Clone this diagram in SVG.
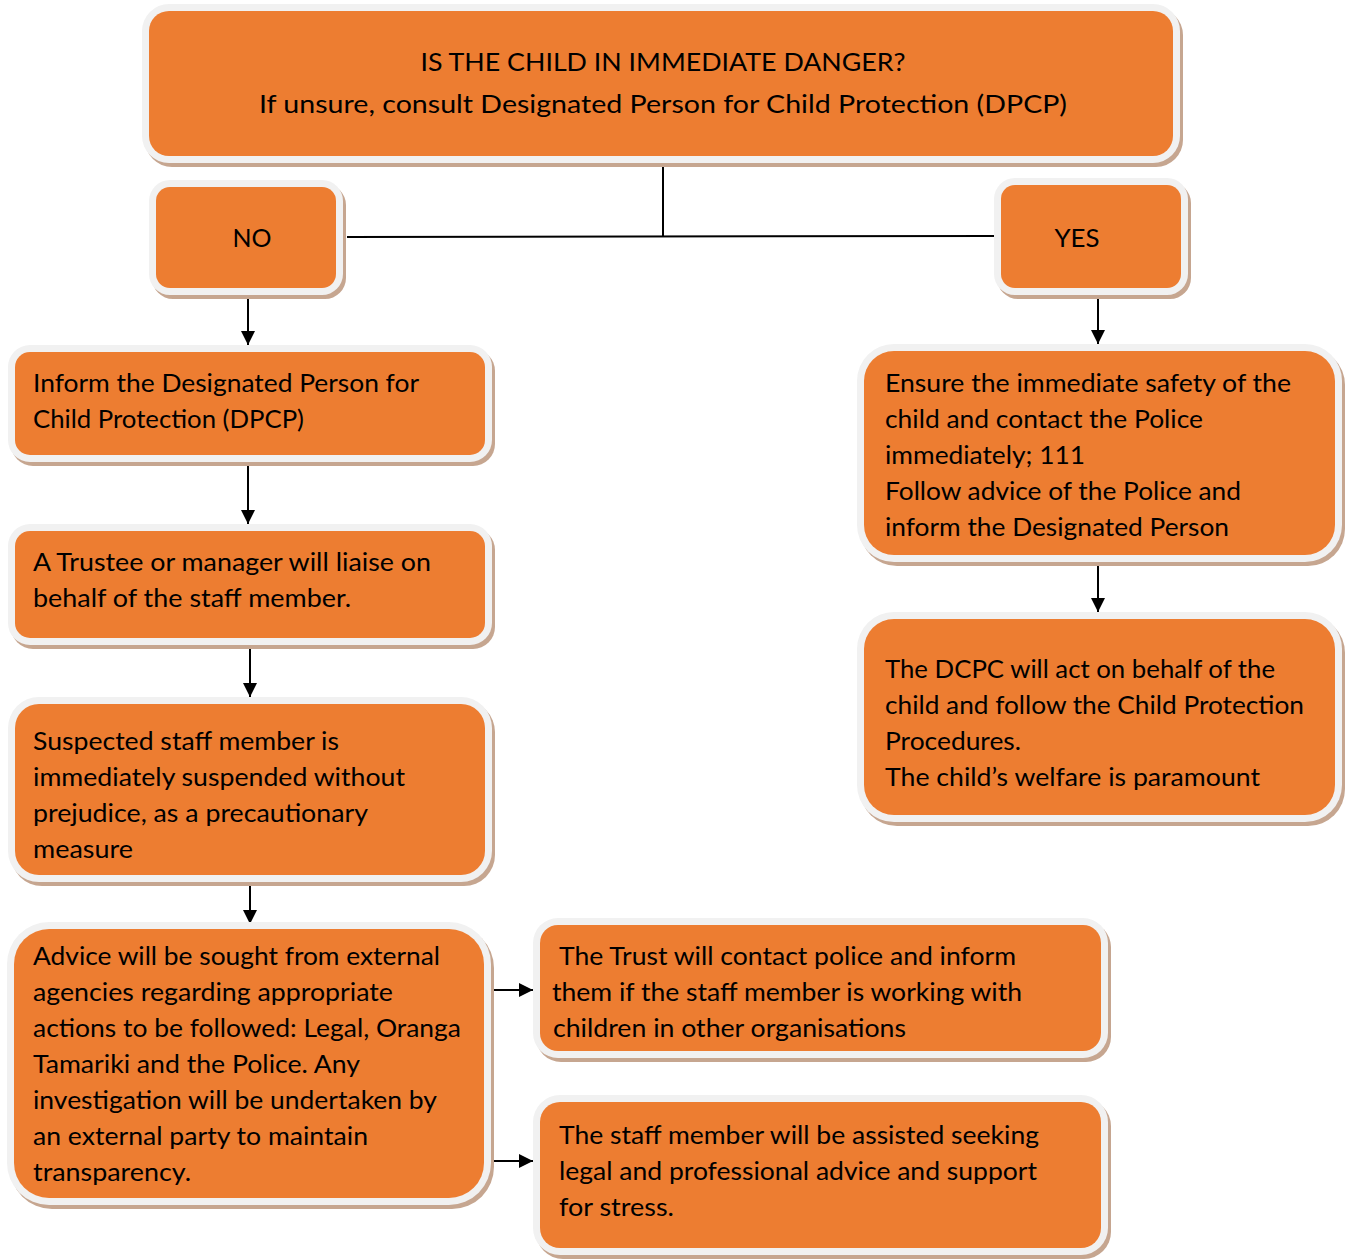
<svg xmlns="http://www.w3.org/2000/svg" width="1346" height="1259" viewBox="0 0 1346 1259">
<defs>
<style>
.sh{fill:#c6a690}
.ou{fill:#f1f1f1}
.in{fill:#ed7d31}
text{font-family:Lato,"Liberation Sans",sans-serif;font-size:25px;fill:#000}
.c{stroke:#000;stroke-width:2;fill:none}
</style>
<marker id="ah" markerUnits="userSpaceOnUse" markerWidth="16" markerHeight="16" refX="14" refY="7" orient="auto">
<path d="M0,0 L14,7 L0,14 z" fill="#000"/>
</marker>
</defs>
<rect width="1346" height="1259" fill="#fff"/>

<g id="connectors">
<path class="c" d="M663,165 V236"/>
<path class="c" d="M347,237 L995,236"/>
<path class="c" d="M248,296 V345" marker-end="url(#ah)"/>
<path class="c" d="M1098,296 V344" marker-end="url(#ah)"/>
<path class="c" d="M248,465 V524" marker-end="url(#ah)"/>
<path class="c" d="M250,648 V697" marker-end="url(#ah)"/>
<path class="c" d="M250,884 V924" marker-end="url(#ah)"/>
<path class="c" d="M1098,565 V612" marker-end="url(#ah)"/>
<path class="c" d="M493,990 H533" marker-end="url(#ah)"/>
<path class="c" d="M493,1161 H533" marker-end="url(#ah)"/>
</g>

<g id="top">
<rect class="sh" x="145" y="8" width="1038" height="159" rx="27"/>
<rect class="ou" x="142" y="4" width="1038" height="159" rx="27"/>
<rect class="in" x="149" y="11" width="1024" height="145" rx="20"/>
<text x="663" y="71" text-anchor="middle" font-size="27" textLength="485" lengthAdjust="spacingAndGlyphs">IS THE CHILD IN IMMEDIATE DANGER?</text>
<text x="663" y="113" text-anchor="middle" font-size="27" textLength="808" lengthAdjust="spacingAndGlyphs">If unsure, consult Designated Person for Child Protection (DPCP)</text>
</g>

<g id="no">
<rect class="sh" x="152" y="184" width="194" height="115" rx="21"/>
<rect class="ou" x="149" y="180" width="194" height="115" rx="21"/>
<rect class="in" x="156" y="187" width="180" height="101" rx="14"/>
<text x="252" y="247" text-anchor="middle" font-size="27" textLength="39" lengthAdjust="spacingAndGlyphs">NO</text>
</g>

<g id="yes">
<rect class="sh" x="997" y="182" width="194" height="117" rx="21"/>
<rect class="ou" x="994" y="178" width="194" height="117" rx="21"/>
<rect class="in" x="1001" y="185" width="180" height="103" rx="14"/>
<text x="1077" y="247" text-anchor="middle" font-size="27" textLength="45" lengthAdjust="spacingAndGlyphs">YES</text>
</g>

<g id="inform">
<rect class="sh" x="11" y="349" width="484" height="117" rx="22"/>
<rect class="ou" x="8" y="345" width="484" height="117" rx="22"/>
<rect class="in" x="15" y="352" width="470" height="103" rx="15"/>
<text x="33" y="392" textLength="386" lengthAdjust="spacingAndGlyphs">Inform the Designated Person for</text>
<text x="33" y="428" textLength="271" lengthAdjust="spacingAndGlyphs">Child Protection (DPCP)</text>
</g>

<g id="trustee">
<rect class="sh" x="11" y="528" width="484" height="121" rx="22"/>
<rect class="ou" x="8" y="524" width="484" height="121" rx="22"/>
<rect class="in" x="15" y="531" width="470" height="107" rx="15"/>
<text x="33" y="571" textLength="398" lengthAdjust="spacingAndGlyphs">A Trustee or manager will liaise on</text>
<text x="33" y="607" textLength="318" lengthAdjust="spacingAndGlyphs">behalf of the staff member.</text>
</g>

<g id="suspended">
<rect class="sh" x="11" y="701" width="484" height="185" rx="31"/>
<rect class="ou" x="8" y="697" width="484" height="185" rx="31"/>
<rect class="in" x="15" y="704" width="470" height="171" rx="24"/>
<text x="33" y="750" textLength="306" lengthAdjust="spacingAndGlyphs">Suspected staff member is</text>
<text x="33" y="786" textLength="372" lengthAdjust="spacingAndGlyphs">immediately suspended without</text>
<text x="33" y="822" textLength="335" lengthAdjust="spacingAndGlyphs">prejudice, as a precautionary</text>
<text x="33" y="858" textLength="100" lengthAdjust="spacingAndGlyphs">measure</text>
</g>

<g id="advice">
<rect class="sh" x="10" y="926" width="484" height="283" rx="42"/>
<rect class="ou" x="7" y="922" width="484" height="283" rx="42"/>
<rect class="in" x="14" y="929" width="470" height="269" rx="35"/>
<text x="33" y="965" textLength="407" lengthAdjust="spacingAndGlyphs">Advice will be sought from external</text>
<text x="33" y="1001" textLength="360" lengthAdjust="spacingAndGlyphs">agencies regarding appropriate</text>
<text x="33" y="1037" textLength="428" lengthAdjust="spacingAndGlyphs">actions to be followed: Legal, Oranga</text>
<text x="33" y="1073" textLength="327" lengthAdjust="spacingAndGlyphs">Tamariki and the Police. Any</text>
<text x="33" y="1109" textLength="404" lengthAdjust="spacingAndGlyphs">investigation will be undertaken by</text>
<text x="33" y="1145" textLength="335" lengthAdjust="spacingAndGlyphs">an external party to maintain</text>
<text x="33" y="1181" textLength="158" lengthAdjust="spacingAndGlyphs">transparency.</text>
</g>

<g id="ensure">
<rect class="sh" x="860" y="348" width="485" height="218" rx="37"/>
<rect class="ou" x="857" y="344" width="485" height="218" rx="37"/>
<rect class="in" x="864" y="351" width="471" height="204" rx="30"/>
<text x="885" y="392" textLength="406" lengthAdjust="spacingAndGlyphs">Ensure the immediate safety of the</text>
<text x="885" y="428" textLength="318" lengthAdjust="spacingAndGlyphs">child and contact the Police</text>
<text x="885" y="464" textLength="200" lengthAdjust="spacingAndGlyphs">immediately; 111</text>
<text x="885" y="500" textLength="356" lengthAdjust="spacingAndGlyphs">Follow advice of the Police and</text>
<text x="885" y="536" textLength="344" lengthAdjust="spacingAndGlyphs">inform the Designated Person</text>
</g>

<g id="dcpc">
<rect class="sh" x="860" y="616" width="485" height="210" rx="37"/>
<rect class="ou" x="857" y="612" width="485" height="210" rx="37"/>
<rect class="in" x="864" y="619" width="471" height="196" rx="30"/>
<text x="885" y="678" textLength="390" lengthAdjust="spacingAndGlyphs">The DCPC will act on behalf of the</text>
<text x="885" y="714" textLength="419" lengthAdjust="spacingAndGlyphs">child and follow the Child Protection</text>
<text x="885" y="750" textLength="136" lengthAdjust="spacingAndGlyphs">Procedures.</text>
<text x="885" y="786" textLength="375" lengthAdjust="spacingAndGlyphs">The child’s welfare is paramount</text>
</g>

<g id="trust">
<rect class="sh" x="536" y="922" width="575" height="140" rx="25"/>
<rect class="ou" x="533" y="918" width="575" height="140" rx="25"/>
<rect class="in" x="540" y="925" width="561" height="126" rx="18"/>
<text x="559" y="965" textLength="457" lengthAdjust="spacingAndGlyphs">The Trust will contact police and inform</text>
<text x="552" y="1001" textLength="470" lengthAdjust="spacingAndGlyphs">them if the staff member is working with</text>
<text x="553" y="1037" textLength="353" lengthAdjust="spacingAndGlyphs">children in other organisations</text>
</g>

<g id="assist">
<rect class="sh" x="536" y="1099" width="575" height="160" rx="27"/>
<rect class="ou" x="533" y="1095" width="575" height="160" rx="27"/>
<rect class="in" x="540" y="1102" width="561" height="146" rx="20"/>
<text x="559" y="1144" textLength="480" lengthAdjust="spacingAndGlyphs">The staff member will be assisted seeking</text>
<text x="559" y="1180" textLength="478" lengthAdjust="spacingAndGlyphs">legal and professional advice and support</text>
<text x="559" y="1216" textLength="115" lengthAdjust="spacingAndGlyphs">for stress.</text>
</g>
</svg>
